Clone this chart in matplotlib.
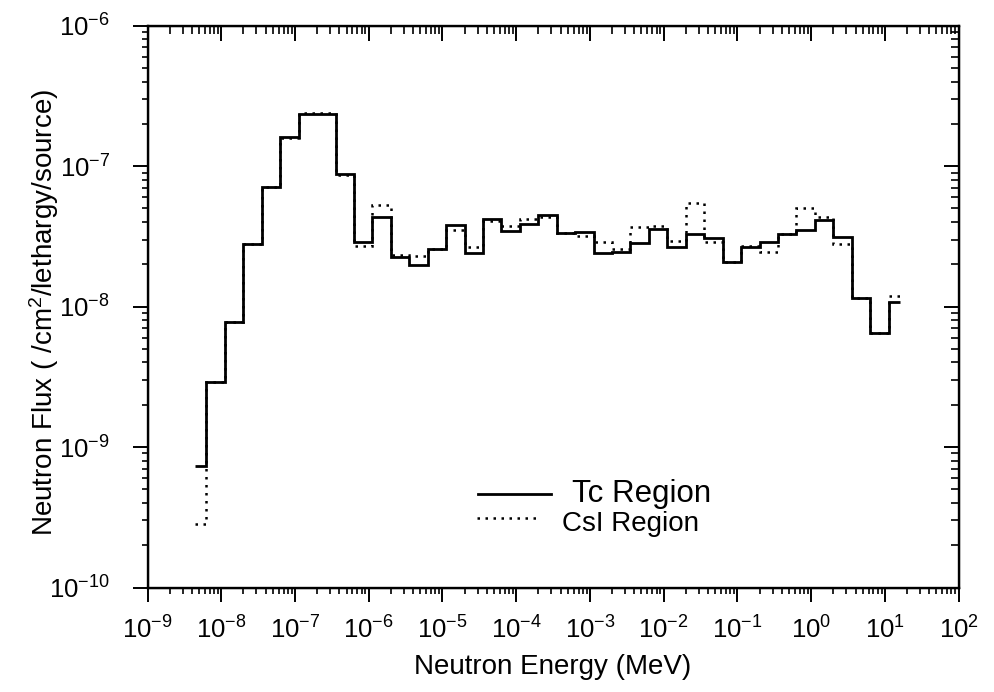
import matplotlib
matplotlib.use('Agg')
import matplotlib.pyplot as plt
from matplotlib.lines import Line2D
from matplotlib.ticker import LogLocator, NullFormatter

plt.rcParams['font.family'] = ['Liberation Sans', 'DejaVu Sans']
plt.rcParams['mathtext.fontset'] = 'custom'
plt.rcParams['mathtext.rm'] = 'Liberation Sans'
plt.rcParams['mathtext.it'] = 'Liberation Sans:italic'
plt.rcParams['mathtext.bf'] = 'Liberation Sans:bold'

#---- group edges (log10 of MeV) ----#
edge_exp = [-8.35, -8.2, -7.95, -7.7, -7.45, -7.2, -6.95, -6.7, -6.45, -6.2,
            -5.95, -5.7, -5.45, -5.2, -4.95, -4.7, -4.45, -4.2, -3.95, -3.7,
            -3.45, -3.2, -2.95, -2.7, -2.45, -2.2, -1.95, -1.7, -1.45, -1.2,
            -0.95, -0.7, -0.45, -0.2, 0.05, 0.3, 0.55, 0.8, 1.05, 1.2]
edges = [10.0 ** e for e in edge_exp]

#---- flux per group ----#
tc_flux = [7.3e-10, 2.9e-9, 7.8e-9, 2.77e-8, 7.1e-8, 1.6e-7, 2.35e-7, 2.35e-7,
           8.8e-8, 2.87e-8, 4.35e-8, 2.24e-8, 1.99e-8, 2.55e-8, 3.83e-8, 2.41e-8,
           4.17e-8, 3.47e-8, 3.88e-8, 4.48e-8, 3.36e-8, 3.4e-8, 2.42e-8, 2.46e-8,
           2.84e-8, 3.54e-8, 2.67e-8, 3.3e-8, 3.09e-8, 2.09e-8, 2.65e-8, 2.9e-8,
           3.26e-8, 3.5e-8, 4.13e-8, 3.15e-8, 1.16e-8, 6.46e-9, 1.07e-8]
csi_flux = [2.83e-10, 2.9e-9, 7.8e-9, 2.8e-8, 7.1e-8, 1.58e-7, 2.38e-7, 2.4e-7,
            8.6e-8, 2.69e-8, 5.27e-8, 2.33e-8, 2.3e-8, 2.55e-8, 3.5e-8, 2.67e-8,
            4.06e-8, 3.73e-8, 4.21e-8, 4.35e-8, 3.36e-8, 3.17e-8, 2.86e-8, 2.55e-8,
            3.7e-8, 3.74e-8, 2.95e-8, 5.48e-8, 2.9e-8, 2.09e-8, 2.68e-8, 2.46e-8,
            3.26e-8, 5.05e-8, 4.32e-8, 2.79e-8, 1.16e-8, 6.46e-9, 1.18e-8]

xtick_exp = [-9, -8, -7, -6, -5, -4, -3, -2, -1, 0, 1, 2]
ytick_exp = [-10, -9, -8, -7, -6]

fig = plt.figure(figsize=(9.94, 6.92), dpi=100)
ax = fig.add_axes([0.1484, 0.151, 0.816, 0.812])

ax.stairs(tc_flux, edges, baseline=None, color='black', linewidth=2.0)
ax.stairs(csi_flux, edges, baseline=None, color='black', linewidth=1.8,
          linestyle=(0, (1, 2.2)))

ax.set_xscale('log')
ax.set_yscale('log')
ax.set_xlim(1e-9, 1e2)
ax.set_ylim(1e-10, 1e-6)

ax.set_xticks([10.0 ** e for e in xtick_exp])
ax.set_xticklabels(['$10^{%d}$' % e for e in xtick_exp])
ax.set_yticks([10.0 ** e for e in ytick_exp])
ax.set_yticklabels(['$10^{%d}$' % e for e in ytick_exp])
ax.xaxis.set_minor_locator(LogLocator(base=10, subs=range(2, 10), numticks=50))
ax.yaxis.set_minor_locator(LogLocator(base=10, subs=range(2, 10), numticks=50))
ax.xaxis.set_minor_formatter(NullFormatter())
ax.yaxis.set_minor_formatter(NullFormatter())

ax.tick_params(axis='x', which='major', direction='out', length=10, width=1.4,
               labelsize=18.5, pad=11)
ax.tick_params(axis='y', which='major', direction='out', length=11, width=1.4,
               labelsize=18.5, pad=16)
ax.tick_params(which='minor', direction='out', length=4, width=1.2)

for s in ax.spines.values():
    s.set_linewidth(1.7)

#---- top and right axes with ticks pointing in ----#
axt = ax.twiny()
axt.set_xscale('log')
axt.set_xlim(1e-9, 1e2)
axt.set_xticks([10.0 ** e for e in xtick_exp])
axt.xaxis.set_minor_locator(LogLocator(base=10, subs=range(2, 10), numticks=50))
axt.tick_params(axis='x', which='major', direction='in', length=11, width=1.4,
                labeltop=False)
axt.tick_params(axis='x', which='minor', direction='in', length=5.5, width=1.2)

axr = ax.twinx()
axr.set_yscale('log')
axr.set_ylim(1e-10, 1e-6)
axr.set_yticks([10.0 ** e for e in ytick_exp])
axr.yaxis.set_minor_locator(LogLocator(base=10, subs=range(2, 10), numticks=50))
axr.tick_params(axis='y', which='major', direction='in', length=11, width=1.4,
                labelright=False)
axr.tick_params(axis='y', which='minor', direction='in', length=5.5, width=1.2)

ax.set_xlabel('Neutron Energy (MeV)', fontsize=20)
ax.set_ylabel('Neutron Flux ( /cm$^2$/lethargy/source)', fontsize=20)
ax.xaxis.set_label_coords(0.5, -0.119)
ax.yaxis.set_label_coords(-0.107, 0.49)

#---- legend ----#
ax.add_line(Line2D([0.407, 0.498], [0.166, 0.166], transform=ax.transAxes,
                   color='black', linewidth=2.0))
ax.add_line(Line2D([0.406, 0.48], [0.1235, 0.1235], transform=ax.transAxes,
                   color='black', linewidth=1.8, linestyle=(0, (1, 2.2))))
ax.text(0.523, 0.166, 'Tc Region', transform=ax.transAxes, fontsize=22.5,
        ha='left', va='center')
ax.text(0.511, 0.1135, 'CsI Region', transform=ax.transAxes, fontsize=20,
        ha='left', va='center')

fig.savefig('out.png', dpi=100)
